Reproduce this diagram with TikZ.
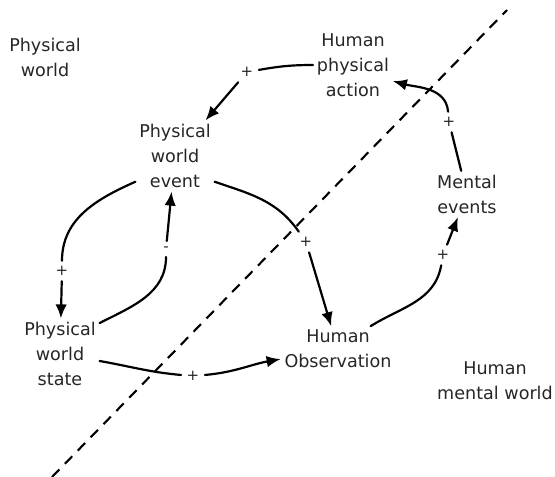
\documentclass[tikz,border=0pt]{standalone}
\usepackage{fontspec}
\setmainfont{DejaVu Sans}
\usetikzlibrary{arrows.meta,positioning,calc}

\begin{document}
\begin{tikzpicture}[x=0.02cm, y=-0.02cm,
  box/.style={align=center, inner sep=2pt, text=black!85, font=\fontsize{10}{14.2}\selectfont},
  sign/.style={inner sep=3pt, text=black!85, font=\fontsize{8.5}{9}\selectfont},
  link/.style={line width=1.25pt, line cap=round},
  arr/.style={link, -{Latex[length=2.8mm,width=2.3mm]}}]
\useasboundingbox (0,0) rectangle (555,477);

% Boundary between the two worlds
\draw[line width=1.2pt, dash pattern=on 6pt off 4.5pt] (52,477) -- (507,10);

% Region labels
\node[box] (physworld) at (45,57) {Physical\\world};
\node[box] (mentworld) at (495,381) {Human\\mental world};

% Main nodes
\node[box] (action) at (353,65) {Human\\physical\\action};
\node[box] (event) at (175,156) {Physical\\world\\event};
\node[box] (mental) at (467,194) {Mental\\events};
\node[box] (state) at (60,354) {Physical\\world\\state};
\node[box] (obs) at (338,349) {Human\\Observation};

% Signs on the links
\node[sign] (p1) at (247,72) {+};
\node[sign] (p2) at (449,122) {+};
\node[sign] (p3) at (306,242) {+};
\node[sign] (p4) at (62,271) {+};
\node[sign] (m5) at (166,249) {-};
\node[sign] (p6) at (193,376) {+};
\node[sign] (p7) at (443,255) {+};

% Causal links
\draw[link] (action.west) to[out=180, in=10] (p1);
\draw[arr] (p1) -- (event);
\draw[link] (mental) -- (p2);
\draw[arr] (p2) to[out=95, in=-15] (action.-22);
\draw[link] (event.-33) to[out=-19, in=125] (p3);
\draw[arr] (p3) -- (obs);
\draw[link] (event.213) to[out=204, in=90] (p4);
\draw[arr] (p4) -- (state);
\draw[link] (state.38) to[out=27, in=-90] (m5);
\draw[arr] (m5) -- (event);
\draw[link] (state.-10) to[out=-10, in=175] (p6);
\draw[arr] (p6) to[out=5, in=190] (obs);
\draw[link] (obs.35) to[out=32, in=-100] (p7);
\draw[arr] (p7) -- (mental);
\end{tikzpicture}
\end{document}
